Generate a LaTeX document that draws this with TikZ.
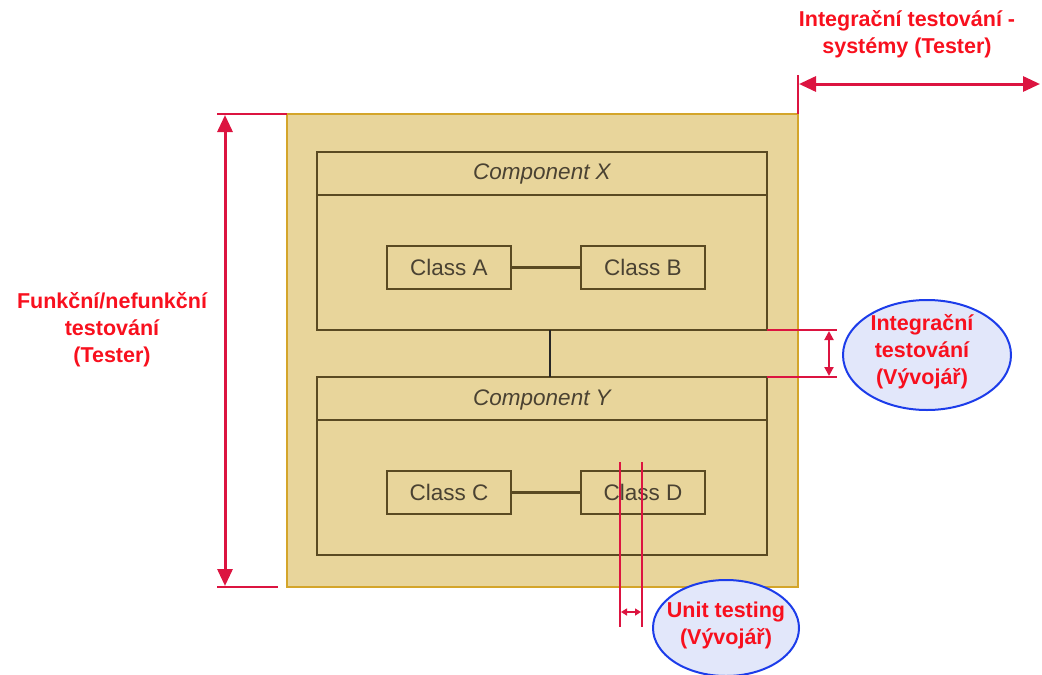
\documentclass[tikz,border=0pt]{standalone}
\usepackage{fontspec}
\setmainfont{Liberation Sans}
\usetikzlibrary{arrows.meta,shapes.geometric}
\definecolor{boxfill}{HTML}{E8D59B}
\definecolor{boxedge}{HTML}{D4A52A}
\definecolor{inner}{HTML}{5A4A22}
\definecolor{innertext}{HTML}{4A4232}
\definecolor{redtext}{HTML}{F8101E}
\definecolor{redline}{HTML}{DC1440}
\definecolor{ellfill}{HTML}{E2E7FA}
\definecolor{elledge}{HTML}{1C3CEA}
\tikzset{
  comp/.style={draw=inner, line width=2.5pt, minimum width=450pt, minimum height=178pt, inner sep=0pt, outer sep=0pt},
  cls/.style={draw=inner, line width=2.5pt, minimum width=124pt, minimum height=43pt, inner sep=0pt, outer sep=0pt,
     text=innertext, font=\fontsize{22.5}{26}\selectfont},
  ctitle/.style={text=innertext, font=\fontsize{22.5}{26}\selectfont\itshape},
  redlbl/.style={text=redtext, font=\fontsize{21.5}{27}\selectfont\bfseries, align=center},
  dimline/.style={draw=redline, line width=2pt},
  bigarrow/.style={draw=redline, line width=3pt, {Triangle[length=17pt,width=15pt]}-{Triangle[length=17pt,width=15pt]}},
  midarrow/.style={draw=redline, line width=2pt, {Triangle[length=9pt,width=9pt]}-{Triangle[length=9pt,width=9pt]}},
  smallarrow/.style={draw=redline, line width=1.8pt, {Triangle[length=6pt,width=7pt]}-{Triangle[length=6pt,width=7pt]}},
  bubble/.style={ellipse, draw=elledge, line width=2pt, fill=ellfill, inner sep=0pt}
}
\begin{document}
\begin{tikzpicture}[x=1pt,y=-1pt]
\useasboundingbox (0,0) rectangle (1042,675);
% outer system box
\node[draw=boxedge, fill=boxfill, line width=2pt, minimum width=511pt, minimum height=473pt, inner sep=0pt, outer sep=0pt] (outer) at (542.5,350.5) {};
% components
\node[comp] (compX) at (542,241) {};
\node[comp] (compY) at (542,466) {};
\coordinate (hxl) at (317,195); \coordinate (hxr) at (767,195);
\coordinate (hyl) at (317,420); \coordinate (hyr) at (767,420);
\draw[draw=inner, line width=2.5pt] (hxl) -- (hxr);
\draw[draw=inner, line width=2.5pt] (hyl) -- (hyr);
\node[ctitle] (tX) at (542,174) {Component X};
\node[ctitle] (tY) at (542,400) {Component Y};
% classes
\node[cls] (A) at (449,267.5) {Class A};
\node[cls] (B) at (643,267.5) {Class B};
\node[cls] (C) at (449,492.5) {Class C};
\node[cls] (D) at (643,492.5) {Class D};
\draw[draw=inner, line width=2.5pt] (A) -- (B);
\draw[draw=inner, line width=2.5pt] (C) -- (D);
\draw[draw=black!85, line width=2.5pt] (compX.south) ++(8,0) coordinate (xy1) -- (compY.north -| xy1);
% left dimension
\coordinate (lt) at (217,114); \coordinate (lb) at (217,587); \coordinate (lbr) at (278,587);
\draw[dimline] (lt) -- (outer.north west);
\draw[dimline] (lb) -- (lbr);
\coordinate (la1) at (225,115); \coordinate (la2) at (225,586);
\draw[bigarrow] (la1) -- (la2);
\node[redlbl] (leftlbl) at (112,330) {Funkční/nefunkční\\testování\\(Tester)};
% top right dimension
\coordinate (tr) at (798,75);
\draw[dimline] (outer.north east) -- (tr);
\coordinate (ta1) at (799,84); \coordinate (ta2) at (1040,84);
\draw[bigarrow] (ta1) -- (ta2);
\node[redlbl] (toplbl) at (907,34) {Integrační testování -\\systémy (Tester)};
% integration testing
\coordinate (ix1) at (837,330); \coordinate (iy1) at (837,377);
\draw[dimline] (compX.south east) -- (ix1);
\draw[dimline] (compY.north east) -- (iy1);
\coordinate (ia1) at (829,331); \coordinate (ia2) at (829,376);
\draw[midarrow] (ia1) -- (ia2);
\node[bubble, minimum width=168pt, minimum height=110pt] (ib) at (927,355) {};
\node[redlbl] (iblbl) at (922,352) {Integrační\\testování\\(Vývojář)};
% unit testing
\coordinate (u1t) at (620,462); \coordinate (u1b) at (620,627);
\coordinate (u2t) at (642,462); \coordinate (u2b) at (642,627);
\draw[dimline] (u1t) -- (u1b);
\draw[dimline] (u2t) -- (u2b);
\coordinate (ua1) at (621,612); \coordinate (ua2) at (641,612);
\draw[smallarrow] (ua1) -- (ua2);
\node[bubble, minimum width=146pt, minimum height=96pt] (ub) at (726,628) {};
\node[redlbl] (ublbl) at (726,625) {Unit testing\\(Vývojář)};
\end{tikzpicture}
\end{document}
